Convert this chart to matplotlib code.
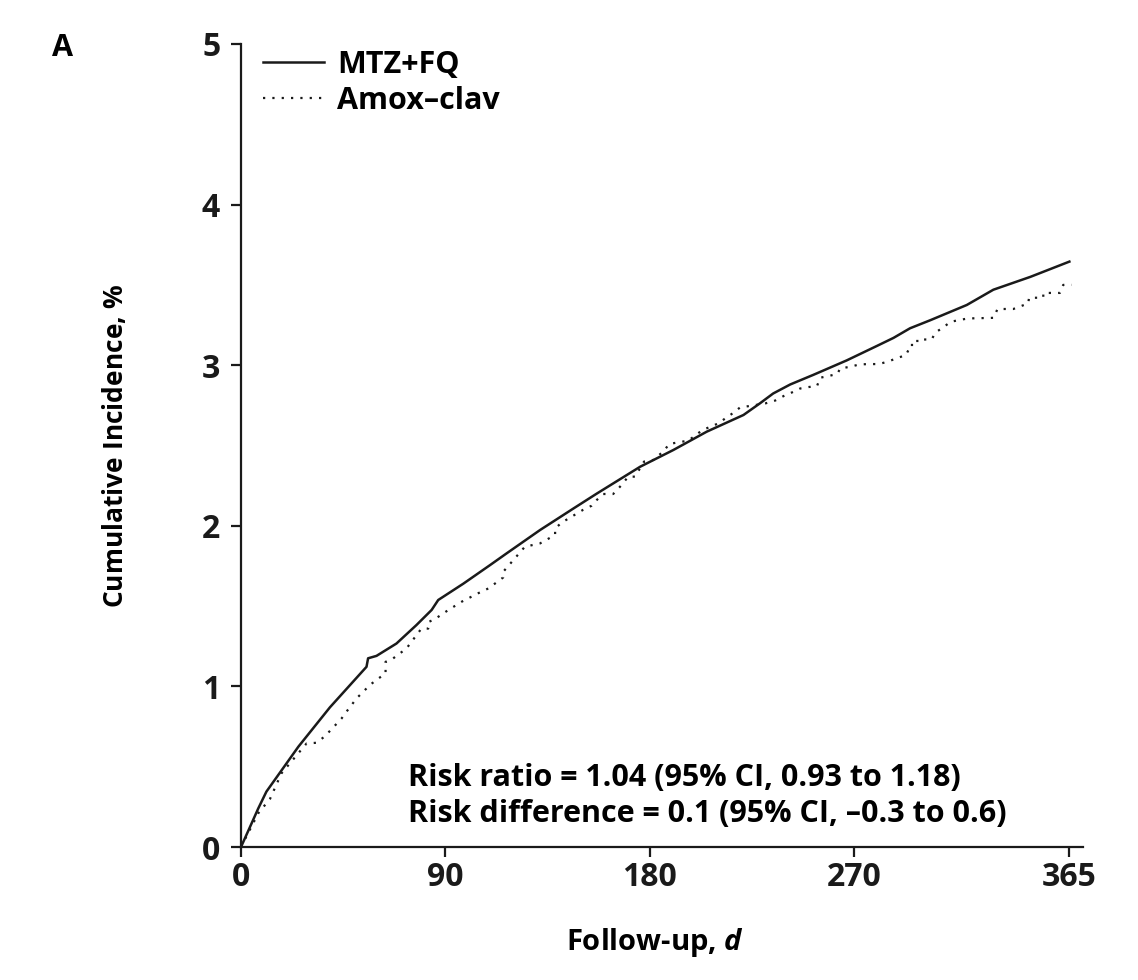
import numpy as np
import matplotlib
matplotlib.use('Agg')
import matplotlib.pyplot as plt

plt.rcParams['font.family'] = ['Open Sans', 'DejaVu Sans']
plt.rcParams['font.weight'] = 'bold'
plt.rcParams['mathtext.fontset'] = 'custom'
plt.rcParams['mathtext.it'] = 'Open Sans:italic:bold'
plt.rcParams['mathtext.rm'] = 'Open Sans:bold'

# MTZ+FQ cumulative incidence (%), solid line
mtz_days = [0, 4, 7.6, 11.2, 17, 25.3, 39.2, 55.3, 56, 59.7, 68.5, 77.3, 84, 86.9,
            98, 109.8, 117, 131.8, 146.5, 156.7, 175.9, 190.5, 205.2, 221.4, 228.7,
            234.5, 242, 252.2, 266.9, 280.2, 287.5, 294.8, 303.7, 319.8, 331.5,
            347.8, 365]
mtz_vals = [0, 0.126, 0.24, 0.345, 0.46, 0.625, 0.87, 1.122, 1.175, 1.19, 1.267,
            1.382, 1.476, 1.538, 1.64, 1.756, 1.828, 1.974, 2.108, 2.20, 2.368,
            2.472, 2.586, 2.69, 2.763, 2.824, 2.88, 2.94, 3.03, 3.12, 3.17, 3.23,
            3.28, 3.375, 3.47, 3.55, 3.645]

# Amox-clav cumulative incidence (%), dotted line
amox_days = [0, 4, 7.6, 12.8, 17.8, 28.9, 33.3, 37, 44.3, 45.8, 50.9, 56.9, 60.6,
             63.7, 63.7, 67, 72.9, 79.5, 82.5, 82.5, 85.5, 91.4, 97.2, 104.5,
             109, 115.5, 115.5, 125.1, 131.7, 138.4, 138.4, 141.3, 150.8, 154.5,
             156.7, 159.6, 164, 167.7, 170.6, 173.6, 177.6, 181.7, 186.4, 188.6,
             192.7, 197.1, 203.3, 210.4, 213.3, 217, 219.9, 223.6, 231, 235.4,
             239.1, 242.7, 246.4, 250.1, 253.8, 255.2, 259.3, 262.8, 264, 268.4,
             272.5, 276.8, 281, 285.2, 289, 293, 294.1, 294.5, 298, 298, 304.3,
             306, 309.4, 312.6, 316.4, 320.2, 331.7, 333.3, 340.3, 343.7, 346.9,
             347.2, 353.5, 353.5, 360.8, 362.3, 366]
amox_vals = [0, 0.11, 0.21, 0.30, 0.458, 0.645, 0.649, 0.69, 0.80, 0.83, 0.925,
             1.01, 1.05, 1.08, 1.153, 1.174, 1.236, 1.36, 1.36, 1.40, 1.42, 1.476,
             1.527, 1.58, 1.61, 1.678, 1.713, 1.87, 1.89, 1.943, 1.983, 2.02, 2.10,
             2.125, 2.16, 2.198, 2.198, 2.254, 2.306, 2.306, 2.40, 2.41, 2.467,
             2.509, 2.52, 2.53, 2.596, 2.638, 2.668, 2.704, 2.737, 2.745, 2.762,
             2.78, 2.808, 2.83, 2.855, 2.864, 2.87, 2.922, 2.934, 2.946, 2.98,
             2.99, 3.005, 3.007, 3.007, 3.023, 3.044, 3.063, 3.095, 3.126, 3.126,
             3.16, 3.16, 3.204, 3.235, 3.27, 3.281, 3.291, 3.295, 3.35, 3.35,
             3.368, 3.385, 3.42, 3.42, 3.45, 3.45, 3.50, 3.50]

xticks = [0, 90, 180, 270, 365]
yticks = [0, 1, 2, 3, 4, 5]

fig = plt.figure(figsize=(11.38, 9.8), dpi=100)
ax = fig.add_axes([241/1138, 1-847/980, 842/1138, 803/980])

ax.plot(mtz_days, mtz_vals, color='#1a1a1a', lw=1.8, label='MTZ+FQ')
ax.plot(amox_days, amox_vals, color='#1a1a1a', lw=1.6, linestyle=(0, (1, 3.2)),
        label='Amox\u2013clav')

ax.set_xlim(0, 371)
ax.set_ylim(0, 5)
ax.set_xticks(xticks)
ax.set_yticks(yticks)
for s in ['top', 'right']:
    ax.spines[s].set_visible(False)
for s in ['left', 'bottom']:
    ax.spines[s].set_linewidth(1.6)
    ax.spines[s].set_color('#1a1a1a')
ax.tick_params(axis='both', direction='out', length=7, width=1.6, colors='#1a1a1a',
               labelsize=23)
ax.tick_params(axis='y', pad=8)
ax.tick_params(axis='x', pad=3)

ax.set_ylabel('Cumulative Incidence, $\\mathit{\\%}$', fontsize=19, fontweight='bold')
ax.yaxis.set_label_coords(-0.133, 0.5)
ax.set_xlabel('Follow-up, $\\mathit{d}$', fontsize=21, fontweight='bold')
ax.xaxis.set_label_coords(0.492, -0.099)

ax.legend(loc='upper left', bbox_to_anchor=(0.012, 1.008), frameon=False,
          fontsize=22, handlelength=2.0, handletextpad=0.42, labelspacing=0.2,
          borderaxespad=0)

ax.text(0.198, 0.0635, 'Risk ratio = 1.04 (95% CI, 0.93 to 1.18)\n'
        'Risk difference = 0.1 (95% CI, \u20130.3 to 0.6)',
        transform=ax.transAxes, fontsize=22, fontweight='bold', va='center',
        ha='left', linespacing=1.25)

fig.text(62/1138, 1-48/980, 'A', fontsize=22, fontweight='bold', ha='center',
         va='center')

fig.savefig('out.png', dpi=100)
